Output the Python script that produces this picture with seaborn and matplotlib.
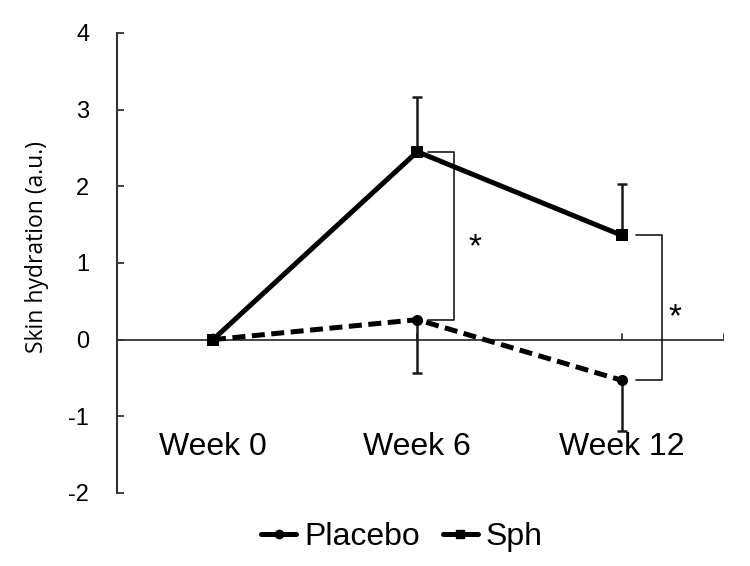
import seaborn as sns
import matplotlib
matplotlib.use("Agg")
import matplotlib.pyplot as plt
from matplotlib.lines import Line2D
import pandas as pd

### Skin hydration line chart ###

weeks = ["Week 0", "Week 6", "Week 12"]
placebo = [0.0, 0.26, -0.53]
sph = [0.0, 2.45, 1.36]
placebo_err = [0.0, 0.70, 0.66]   # drawn downward only
sph_err = [0.0, 0.71, 0.67]       # drawn upward only
y_ticks = [-2, -1, 0, 1, 2, 3, 4]

sns.set_theme(style="white")
plt.rcParams['font.family'] = ['Liberation Sans', 'DejaVu Sans']
plt.rcParams['text.color'] = 'black'
plt.rcParams['ytick.labelcolor'] = 'black'
plt.rcParams['axes.labelcolor'] = 'black'

df = pd.DataFrame({
    "x": list(range(len(weeks))) * 2,
    "value": placebo + sph,
    "group": ["Placebo"] * len(weeks) + ["Sph"] * len(weeks),
})

fig = plt.figure(figsize=(7.5, 5.66), dpi=100)
ax = fig.add_axes([0.156, 0.129, 0.809, 0.813])

sns.lineplot(data=df, x="x", y="value", style="group", hue="group",
             palette={"Placebo": "black", "Sph": "black"},
             markers={"Placebo": "o", "Sph": "s"},
             dashes={"Placebo": (2.6, 1.3), "Sph": ""},
             linewidth=3.6, markersize=8, markeredgewidth=0,
             legend=False, ax=ax, zorder=3)

xs = list(range(len(weeks)))
ax.errorbar(xs[1:], sph[1:], yerr=[[0] * 2, sph_err[1:]], fmt='none',
            ecolor='#1a1a1a', elinewidth=1.8, capsize=3.5, capthick=1.8, zorder=2)
ax.errorbar(xs[1:], placebo[1:], yerr=[placebo_err[1:], [0] * 2], fmt='none',
            ecolor='#1a1a1a', elinewidth=1.8, capsize=3.5, capthick=1.8, zorder=2)

# significance brackets #
def bracket(x0, x1, ytop, ybot, xs_, ys_):
    ax.plot([x0, x1, x1, x0], [ytop, ytop, ybot, ybot], color='#1a1a1a', lw=1.2)
    ax.text(xs_, ys_, "*", fontsize=24, ha='center', va='center')

bracket(1.05, 1.18, sph[1], placebo[1], 1.28, 1.20)
bracket(2.07, 2.2, sph[2], placebo[2], 2.26, 0.28)

# axes #
ax.set_xlim(-0.47, 2.5)
ax.set_ylim(-2, 4)
ax.set_yticks(y_ticks)
ax.set_yticklabels([str(t) for t in y_ticks], fontsize=17)
ax.tick_params(axis='y', direction='in', length=5, width=1.3, color='#333333', pad=20, left=True)
for s in ['top', 'right', 'bottom']:
    ax.spines[s].set_visible(False)
ax.spines['left'].set_color('#333333')
ax.spines['left'].set_linewidth(1.5)
ax.axhline(0, color='#333333', lw=1.3, zorder=1)
for t in [0, 1, 2, 2.5]:
    ax.plot([t, t], [0, 0.07], color='#333333', lw=1.3, zorder=1)
ax.set_xticks([])
ax.set_xlabel("")
for i, w in enumerate(weeks):
    ax.text(i, -1.40, w, fontsize=23, ha='center', va='center')
ax.set_ylabel("Skin hydration (a.u.)", fontsize=16.5, family=['Open Sans', 'DejaVu Sans'])
ax.yaxis.set_label_coords(-0.112, 0.535)

handles = [Line2D([], [], color='black', lw=3.6, marker='o', markersize=6),
           Line2D([], [], color='black', lw=3.6, marker='s', markersize=6)]
fig.legend(handles, ["Placebo", "Sph"], loc='center', bbox_to_anchor=(0.536, 0.051),
           ncol=2, frameon=False, fontsize=23, handlelength=1.1, handletextpad=0.25,
           columnspacing=0.7)

fig.savefig("out.png", dpi=100)
